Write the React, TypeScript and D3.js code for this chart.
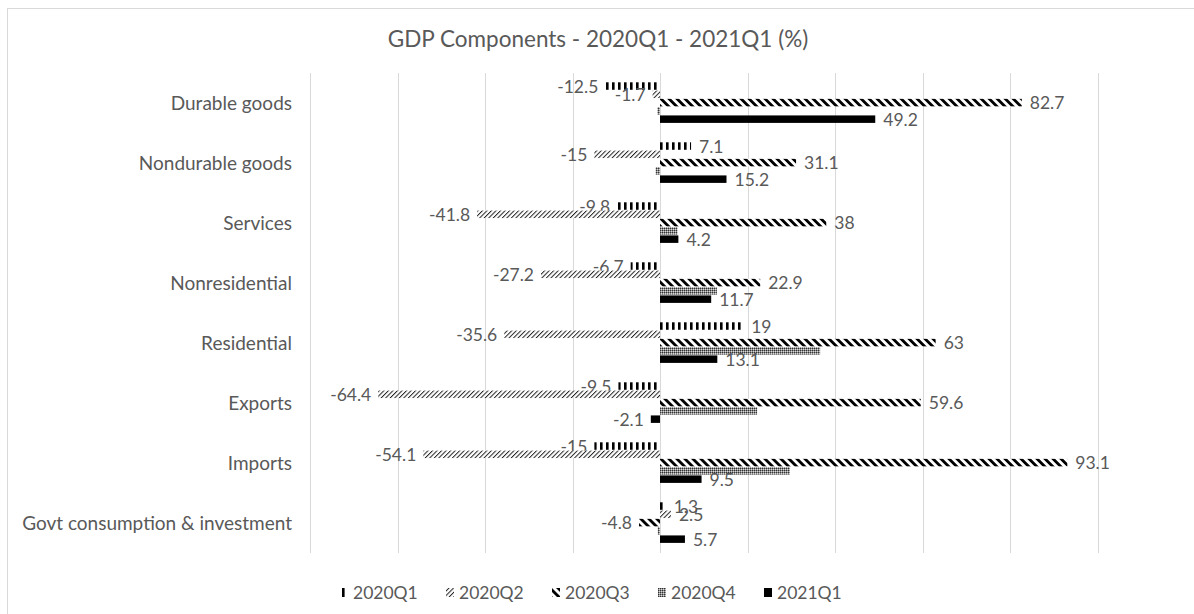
import React from "react";
import * as d3 from "d3";

const categories = [
  "Durable goods",
  "Nondurable goods",
  "Services",
  "Nonresidential",
  "Residential",
  "Exports",
  "Imports",
  "Govt consumption & investment",
];
const seriesNames = ["2020Q1", "2020Q2", "2020Q3", "2020Q4", "2021Q1"];
const q1_2020 = [-12.5, 7.1, -9.8, -6.7, 19, -9.5, -15, 1.3];
const q2_2020 = [-1.7, -15, -41.8, -27.2, -35.6, -64.4, -54.1, 2.5];
const q3_2020 = [82.7, 31.1, 38, 22.9, 63, 59.6, 93.1, -4.8];
const q4_2020 = [-0.6, -1.0, 4.0, 13.0, 36.6, 22.2, 29.7, -0.5];
const q1_2021 = [49.2, 15.2, 4.2, 11.7, 13.1, -2.1, 9.5, 5.7];
const seriesValues = [q1_2020, q2_2020, q3_2020, q4_2020, q1_2021];
const showLabels = [true, true, true, false, true];
const xTicks = [-80, -60, -40, -20, 0, 20, 40, 60, 80, 100];

const W = 1194;
const H = 614;
const FONT = "Lato, 'Open Sans', sans-serif";
const TXT = "#595959";

export default function App() {
  const x = d3.scaleLinear().domain([-80, 100]).range([310, 1097.5]);
  const y = d3
    .scaleBand<string>()
    .domain(categories)
    .range([73, 553])
    .paddingInner(0.31)
    .paddingOuter(0.155);
  const ys = d3
    .scaleBand<string>()
    .domain(seriesNames)
    .range([0, y.bandwidth()])
    .padding(0);

  const fills = [
    "url(#pVert)",
    "url(#pUp)",
    "url(#pDn)",
    "url(#pDot)",
    "#000",
  ];

  return (
    <svg
      width={W}
      height={H}
      style={{ position: "fixed", left: 0, top: 0, background: "#fff" }}
    >
      <defs>
        <pattern id="pVert" width="6" height="8" patternUnits="userSpaceOnUse">
          <rect width="6" height="8" fill="#fff" />
          <rect x="0" y="0" width="2.6" height="8" fill="#000" />
        </pattern>
        <pattern
          id="pUp"
          width="3.2"
          height="8"
          patternUnits="userSpaceOnUse"
          patternTransform="rotate(45)"
        >
          <rect width="3.2" height="8" fill="#fff" />
          <rect width="1" height="8" fill="#222" />
        </pattern>
        <pattern
          id="pDn"
          width="5.66"
          height="8"
          patternUnits="userSpaceOnUse"
          patternTransform="rotate(-45)"
        >
          <rect width="5.66" height="8" fill="#fff" />
          <rect width="2.8" height="8" fill="#000" />
        </pattern>
        <pattern id="pDot" width="2" height="2" patternUnits="userSpaceOnUse">
          <rect width="2" height="2" fill="#8a8a8a" />
          <rect width="1" height="1" fill="#333" />
          <rect x="1" y="1" width="1" height="1" fill="#d8d8d8" />
        </pattern>
      </defs>
      <rect x={7.5} y={8.5} width={1300} height={700} fill="#fff" stroke="#d9d9d9" />
      <text
        x={598}
        y={47}
        textAnchor="middle"
        fontFamily={FONT}
        fontSize={22.5}
        fill={TXT}
      >
        GDP Components - 2020Q1 - 2021Q1 (%)
      </text>
      {xTicks.map((t) => (
        <line
          key={t}
          x1={Math.round(x(t)) + 0.5}
          x2={Math.round(x(t)) + 0.5}
          y1={73}
          y2={553}
          stroke="#d9d9d9"
          strokeWidth={1}
        />
      ))}
      {categories.map((c) => (
        <text
          key={c}
          x={292}
          y={(y(c) as number) + y.bandwidth() / 2}
          dy="0.35em"
          textAnchor="end"
          fontFamily={FONT}
          fontSize={19}
          fill={TXT}
        >
          {c}
        </text>
      ))}
      {seriesValues.map((vals, si) =>
        vals.map((v, ci) => {
          const c = categories[ci];
          const by = (y(c) as number) + (ys(seriesNames[si]) as number);
          const bh = ys.bandwidth();
          const x0 = x(Math.min(0, v));
          const x1 = x(Math.max(0, v));
          return (
            <g key={si + "-" + ci}>
              <rect x={x0} y={by} width={Math.max(0.5, x1 - x0)} height={bh - 0.8} fill={fills[si]} />
              {showLabels[si] && (
                <text
                  x={v >= 0 ? x(v) + 8 : x(v) - 7}
                  y={by + bh / 2}
                  dy="0.35em"
                  textAnchor={v >= 0 ? "start" : "end"}
                  fontFamily={FONT}
                  fontSize={17.5}
                  fill={TXT}
                >
                  {String(v)}
                </text>
              )}
            </g>
          );
        })
      )}
      {seriesNames.map((s, i) => {
        const lx = 340 + i * 106;
        return (
          <g key={s}>
            <rect x={lx} y={588} width={8} height={9} fill={fills[i]} />
            <text
              x={lx + 13}
              y={593}
              dy="0.35em"
              fontFamily={FONT}
              fontSize={17.5}
              fill={TXT}
            >
              {s}
            </text>
          </g>
        );
      })}
    </svg>
  );
}
